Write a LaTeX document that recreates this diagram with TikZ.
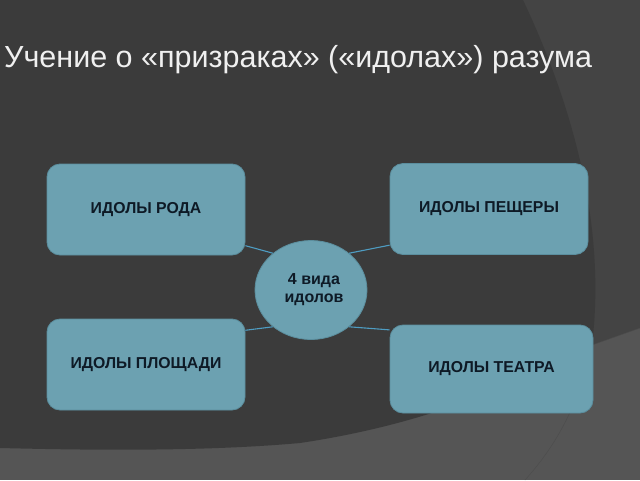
\documentclass[tikz,border=0pt]{standalone}
\usepackage{fontspec}
\setmainfont{Liberation Sans}
\usetikzlibrary{shapes}

\definecolor{bgdark}{HTML}{3B3B3B}
\definecolor{bgmid}{HTML}{444444}
\definecolor{bglight}{HTML}{555555}
\definecolor{idolfill}{HTML}{6CA1B1}
\definecolor{idoledge}{HTML}{5B8E9E}
\definecolor{idoltext}{HTML}{0E1A26}
\definecolor{linkcol}{HTML}{4E9CC2}

\begin{document}
\begin{tikzpicture}[x=1pt,y=-1pt,
    idol/.style={draw=idoledge, fill=idolfill, line width=0.8pt, rounded corners=13pt,
      minimum width=198pt, minimum height=91pt, text=idoltext,
      font=\bfseries\fontsize{15.8}{19}\selectfont},
    kinds/.style={ellipse, draw=idoledge, fill=idolfill, line width=0.8pt, inner sep=0pt,
      minimum width=112pt, minimum height=99pt, text=idoltext, align=center,
      font=\bfseries\fontsize{16}{18}\selectfont},
    link/.style={draw=linkcol, line width=1.1pt}]
    \useasboundingbox (0,0) rectangle (640,480);

    % background of the slide %
    \fill[bglight] (0,0) rectangle (640,480);
    \fill[bgmid] (0,0) -- (640,0) -- (640,328) -- (592,345) -- (0,345) -- cycle;
    \fill[bgdark] (0,0) -- (523,0) .. controls (575,110) and (606,230) .. (592,345)
      .. controls (520,380) and (440,422) .. (300,443)
      .. controls (200,452) and (80,450) .. (0,448) -- cycle;
    \draw[black!70, thin] (592,345) .. controls (578,410) and (552,450) .. (525,480);
    \draw[black!70, thin] (592,345) -- (640,328);

    % title %
    \node[anchor=base west, inner sep=0pt, text=white!94!black, font=\fontsize{30.5}{36}\selectfont]
      (title) at (4,67) {Учение о «призраках» («идолах») разума};

    % idols and the centre %
    \node[idol] (rod) at (146,209.5) {ИДОЛЫ РОДА};
    \node[idol] (cave) at (489,209) {ИДОЛЫ ПЕЩЕРЫ};
    \node[idol] (square) at (146,364.5) {ИДОЛЫ ПЛОЩАДИ};
    \node[idol, minimum width=203pt, minimum height=88pt] (theatre) at (491.5,369) {ИДОЛЫ ТЕАТРА};
    \node[kinds] (kinds) at (311,290) {\hspace*{6pt}4 вида\\\hspace*{6pt}идолов};

    % links %
    \draw[link] (kinds.136) -- (rod.-20);
    \draw[link] (kinds.44) -- (cave.200);
    \draw[link] (kinds.-136) -- (square.19);
    \draw[link] (kinds.-44) -- (theatre.159);
\end{tikzpicture}
\end{document}
